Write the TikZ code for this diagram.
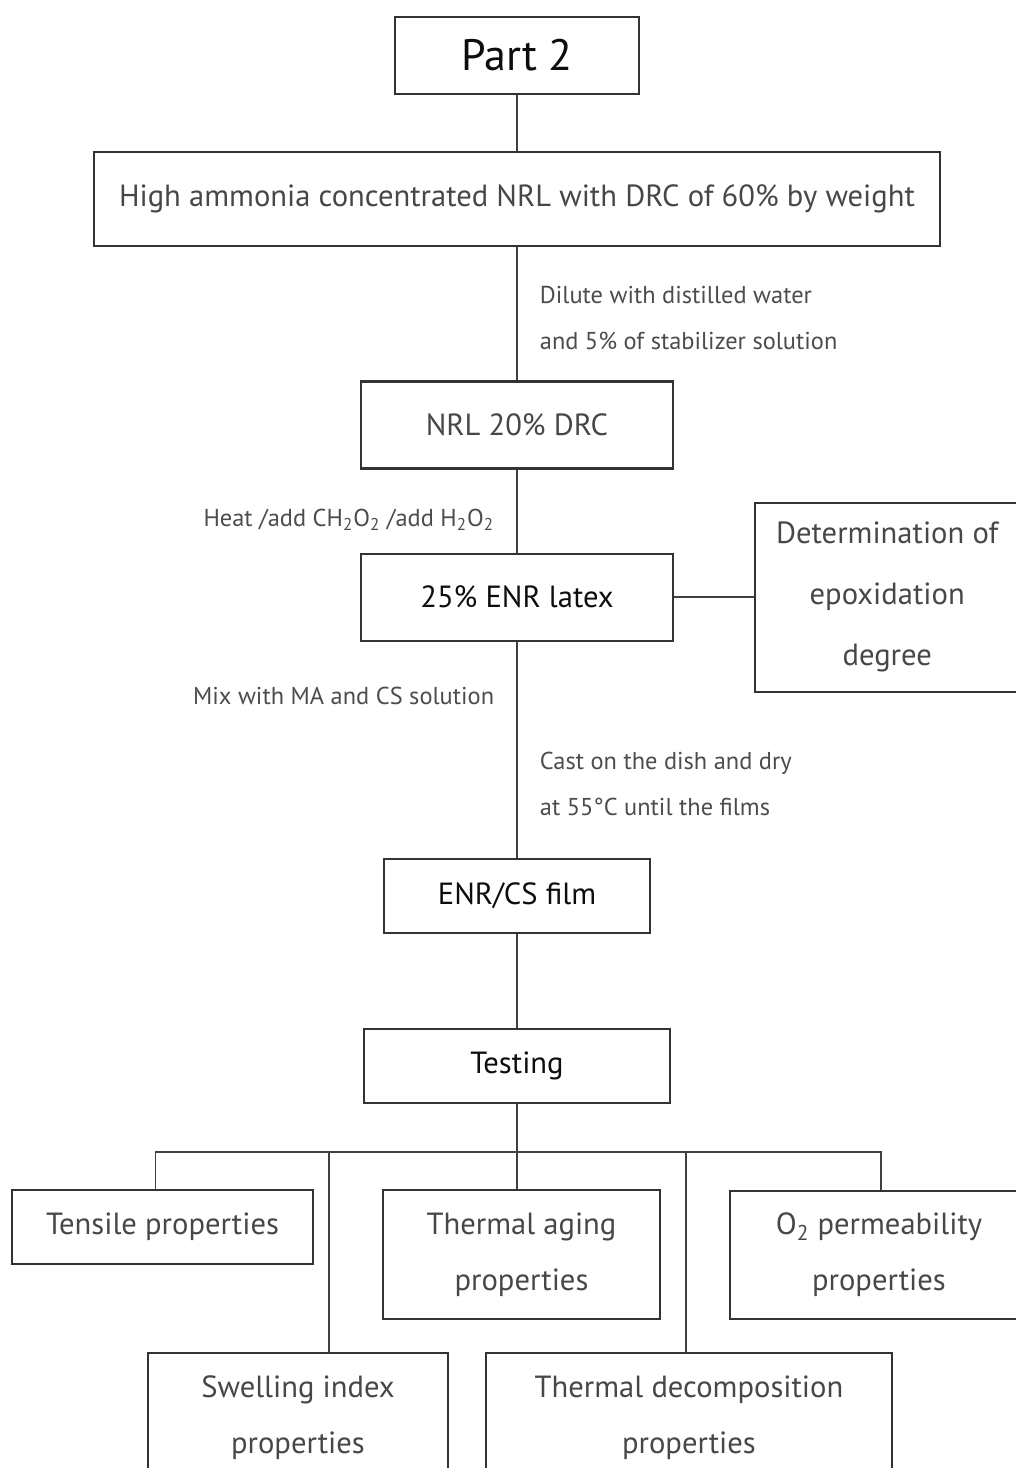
\documentclass[tikz,border=0pt]{standalone}
\usepackage{fontspec}
\setmainfont{PT Sans}
\usetikzlibrary{positioning}

\begin{document}
\begin{tikzpicture}[
  x=0.5pt, y=-0.5pt,
  boxnode/.style  = {draw=black!80, line width=1.1pt, align=center,
                     inner sep=0pt, text=black!72,
                     font=\fontsize{15.3}{28}\selectfont},
  keynode/.style  = {boxnode, text=black!95},
  notenode/.style = {align=left, inner sep=0pt, text=black!70,
                     font=\fontsize{12.2}{23}\selectfont},
  link/.style     = {draw=black!75, line width=0.9pt},
]
\useasboundingbox (0,0) rectangle (1016,1468);
\clip (0,0) rectangle (1016,1468);

% main column
\node[keynode, minimum width=122pt, minimum height=38.5pt,
      font=\fontsize{22}{26}\selectfont] (part) at (517,55.5) {Part 2};
\node[boxnode, below=28pt of part, minimum width=423pt, minimum height=47pt]
      (latex) {High ammonia concentrated NRL with DRC of 60\% by weight};
\node[boxnode, below=66.5pt of latex, minimum width=156pt, minimum height=43.5pt]
      (nrl) {NRL 20\% DRC};
\node[keynode, below=41.5pt of nrl, minimum width=156pt, minimum height=43.5pt]
      (enr) {25\% ENR latex};
\node[boxnode, right=40pt of enr, minimum width=132pt, minimum height=94.5pt,
      font=\fontsize{15.3}{30.5}\selectfont]
      (degree) {Determination of\\epoxidation\\degree};
\node[keynode, below=108pt of enr, minimum width=133pt, minimum height=37pt]
      (film) {ENR/CS film};
\node[keynode, below=47pt of film, minimum width=153pt, minimum height=37pt]
      (testing) {Testing};

% test boxes
\node[boxnode, anchor=north, minimum width=150.5pt, minimum height=37pt]
      (tensile) at (162.5,1189) {Tensile properties};
\node[boxnode, anchor=north, minimum width=138.5pt, minimum height=64.5pt]
      (aging) at (521.5,1189) {Thermal aging\\properties};
\node[boxnode, anchor=north, minimum width=149pt, minimum height=64pt]
      (otwo) at (879,1190) {O\textsubscript{2} permeability\\properties};
\node[boxnode, anchor=north, minimum width=150pt, minimum height=65pt]
      (swell) at (298,1352) {Swelling index\\properties};
\node[boxnode, anchor=north, minimum width=203pt, minimum height=65pt]
      (decomp) at (689,1352) {Thermal decomposition\\properties};

% connectors
\draw[link] (part) -- (latex);
\draw[link] (latex) -- (nrl)
    node[notenode, midway, right, xshift=11pt, yshift=-2pt]
    {Dilute with distilled water\\and 5\% of stabilizer solution};
\draw[link] (nrl) -- (enr)
    node[notenode, midway, left, xshift=-11pt, yshift=-4.5pt]
    {Heat /add CH\textsubscript{2}O\textsubscript{2} /add H\textsubscript{2}O\textsubscript{2}};
\draw[link] (enr.east) -- (enr.east -| degree.west);
\draw[link] (enr) -- (film)
    node[notenode, pos=0.25, left, xshift=-11pt]
    {Mix with MA and CS solution}
    node[notenode, pos=0.66, right, xshift=11pt]
    {Cast on the dish and dry\\at 55°C until the films};
\draw[link] (film) -- (testing);

% branches
\coordinate[below=24pt of testing] (bus);
\draw[link] (testing) -- (bus);
\draw[link] ([xshift=-3.5pt]tensile.north) |- ([xshift=1pt]otwo.north |- bus)
    -- ([xshift=1pt]otwo.north);
\draw[link] (bus) -- (bus |- aging.north);
\draw[link] ([xshift=15.5pt]swell.north |- bus) -- ([xshift=15.5pt]swell.north);
\draw[link] ([xshift=-1.5pt]decomp.north |- bus) -- ([xshift=-1.5pt]decomp.north);

\end{tikzpicture}
\end{document}
